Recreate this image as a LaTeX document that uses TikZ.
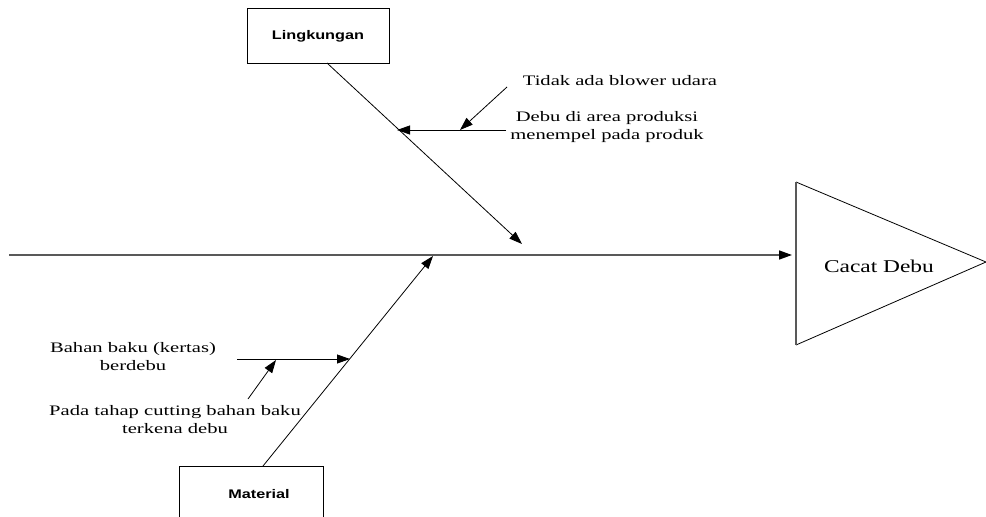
\documentclass[tikz,border=0pt]{standalone}
\usepackage{fontspec}
\setmainfont{Liberation Serif}
\newfontfamily\smallserif[FakeStretch=1.42]{Liberation Serif}
\newfontfamily\bigserif[FakeStretch=1.3]{Liberation Serif}
\newfontfamily\boxsans[FakeStretch=1.3]{Liberation Sans}
\usetikzlibrary{arrows.meta}
\tikzset{
  tip/.style={-{Triangle[length=13pt,width=9pt,color=black]}},
  bone/.style={draw=black,line width=0.8pt},
  spineline/.style={draw=black!65,line width=1.6pt},
  catbox/.style={draw=black,line width=0.9pt,minimum width=142pt,minimum height=55pt,inner sep=0pt},
  cause/.style={font=\smallserif\fontsize{14.5}{18}\selectfont,align=center,inner sep=0pt},
  boxlabel/.style={font=\boxsans\bfseries\fontsize{12.5}{14}\selectfont,inner sep=0pt},
}
\begin{document}
\begin{tikzpicture}[x=1pt,y=-1pt]
\clip (0,0) rectangle (986,517);
% effect triangle
\draw[line width=0.8pt] (796,182) -- (986,262) -- (796,345);
\draw[spineline] (796,182) -- (796,345);
\node[font=\bigserif\fontsize{18}{20}\selectfont,inner sep=0pt] (effect) at (879,266) {Cacat Debu};
% spine
\coordinate (spinestart) at (9,255);
\coordinate (spineend) at (792,255);
\draw[spineline,tip] (spinestart) -- (spineend);
% Lingkungan
\node[catbox] (ling) at (318,35.5) {};
\node[boxlabel] (lingtext) at (318,36) {Lingkungan};
\coordinate (lingfoot) at (327,63);
\coordinate (lingtip) at (522,244);
\draw[bone,tip] (lingfoot) -- (lingtip);
\coordinate (c1start) at (506,130);
\coordinate (c1tip) at (397,130);
\draw[bone,tip] (c1start) -- (c1tip);
\coordinate (c1bstart) at (507,87);
\coordinate (c1btip) at (460,130);
\draw[bone,tip] (c1bstart) -- (c1btip);
\node[cause] (t1) at (620,81) {Tidak ada blower udara};
\node[cause] (t2) at (607,127) {Debu di area produksi\\menempel pada produk};
% Material
\node[catbox,minimum width=144pt] (mat) at (251,493.5) {};
\node[boxlabel] (mattext) at (259,494) {Material};
\coordinate (matfoot) at (263,466);
\coordinate (mattip) at (433,256);
\draw[bone,tip] (matfoot) -- (mattip);
\coordinate (c2start) at (237,359);
\coordinate (c2tip) at (350,359);
\draw[bone,tip] (c2start) -- (c2tip);
\coordinate (c2bstart) at (248,399);
\coordinate (c2btip) at (276,360);
\draw[bone,tip] (c2bstart) -- (c2btip);
\node[cause] (t3) at (133,357) {Bahan baku (kertas)\\berdebu};
\node[cause] (t4) at (175,420) {Pada tahap cutting bahan baku\\terkena debu};
\end{tikzpicture}
\end{document}
